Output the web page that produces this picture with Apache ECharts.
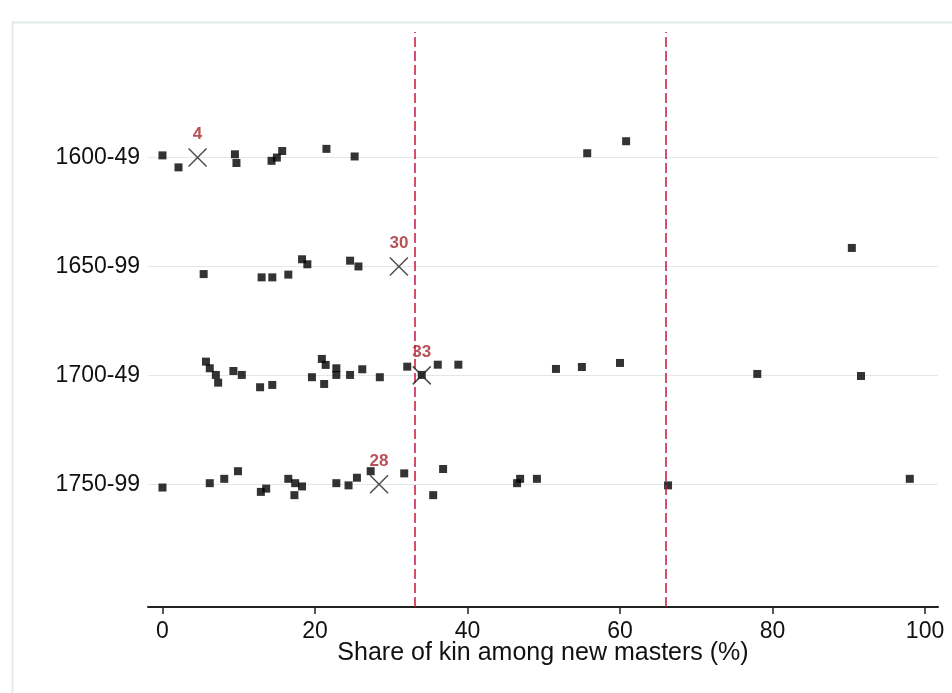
<!DOCTYPE html>
<html>
<head>
<meta charset="utf-8">
<script src="https://cdn.jsdelivr.net/npm/echarts@6/dist/echarts.min.js"></script>
<style>html,body{margin:0;padding:0;background:#fff}#c{width:952px;height:693px}</style>
</head>
<body>
<div id="c"></div>
<script>
// ---- data ----
var categories = ['1600-49', '1650-99', '1700-49', '1750-99'];
var rowValues = [4, 3, 2, 1];
var xTicks = [0, 20, 40, 60, 80, 100];
var xAxisTitle = 'Share of kin among new masters (%)';

var p1600_x = [0.0, 2.1, 9.5, 9.7, 14.3, 15.0, 15.7, 21.5, 25.2, 55.7, 60.8];
var p1600_j = [0.02, -0.09, 0.03, -0.05, -0.03, 0.00, 0.06, 0.08, 0.01, 0.04, 0.15];

var p1650_x = [5.4, 13.0, 14.4, 16.5, 18.3, 19.0, 24.6, 25.7, 90.4];
var p1650_j = [-0.07, -0.10, -0.10, -0.075, 0.066, 0.02, 0.053, 0.0, 0.17];

var p1700_x = [5.7, 6.2, 7.0, 7.3, 9.3, 10.4, 12.8, 14.4, 19.6, 20.9, 21.4, 22.8, 22.8, 21.2, 24.6, 26.2, 28.5, 32.1, 34.0, 36.1, 38.8, 51.6, 55.0, 60.0, 78.0, 91.6];
var p1700_j = [0.126, 0.065, 0.004, -0.067, 0.04, 0.004, -0.109, -0.088, -0.017, 0.151, 0.096, 0.065, 0.004, -0.079, 0.004, 0.056, -0.017, 0.08, 0.004, 0.098, 0.098, 0.059, 0.077, 0.114, 0.013, -0.006];

var p1750_x = [0.0, 6.2, 8.1, 9.9, 12.9, 13.6, 16.5, 17.4, 18.3, 17.3, 22.8, 24.4, 25.5, 27.3, 31.7, 36.8, 35.5, 46.5, 46.9, 49.1, 66.3, 98.0];
var p1750_j = [-0.03, 0.01, 0.05, 0.12, -0.07, -0.04, 0.05, 0.01, -0.02, -0.10, 0.01, -0.01, 0.06, 0.12, 0.10, 0.14, -0.10, 0.01, 0.05, 0.05, -0.01, 0.05];

var meanX = [4.6, 31.0, 34.0, 28.4];
var meanLabels = ['4', '30', '33', '28'];
var refLines = [33.1, 66.0];

// ---- build ----
var groupsX = [p1600_x, p1650_x, p1700_x, p1750_x];
var groupsJ = [p1600_j, p1650_j, p1700_j, p1750_j];
var pts = [];
for (var g = 0; g < groupsX.length; g++) {
  for (var i = 0; i < groupsX[g].length; i++) {
    pts.push([groupsX[g][i], rowValues[g] + groupsJ[g][i]]);
  }
}
var means = [];
for (var k = 0; k < meanX.length; k++) {
  means.push({ value: [meanX[k], rowValues[k]], label: { formatter: meanLabels[k] } });
}

var chart = echarts.init(document.getElementById('c'), null, { renderer: 'canvas' });
var FONT = '"Liberation Sans", Arial, sans-serif';
chart.setOption({
  animation: false,
  backgroundColor: '#ffffff',
  graphic: [{
    type: 'rect', left: 10, top: 20, z: -10,
    shape: { width: 960, height: 700 },
    style: { fill: 'none', stroke: '#e2ebee', lineWidth: 2 }
  }],
  grid: { left: 148, right: 14, top: 32, bottom: 86, containLabel: false },
  xAxis: {
    type: 'value', min: -1.9, max: 101.7,
    name: xAxisTitle, nameLocation: 'middle', nameGap: 34, nameMoveOverlap: false,
    nameTextStyle: { fontFamily: FONT, fontSize: 25, color: '#111' },
    axisLine: { show: true, onZero: false, lineStyle: { color: '#222', width: 2 } },
    axisTick: { show: true, customValues: xTicks, length: 7, lineStyle: { color: '#222', width: 1.5 } },
    axisLabel: { customValues: xTicks, fontFamily: FONT, fontSize: 23, color: '#111', margin: 13 },
    splitLine: { show: false }
  },
  yAxis: {
    type: 'value', min: -0.127, max: 5.153,
    axisLine: { show: false },
    axisTick: { show: false, customValues: rowValues },
    axisLabel: {
      customValues: rowValues, fontFamily: FONT, fontSize: 23, color: '#111', margin: 8,
      formatter: function (v) { var idx = rowValues.indexOf(Math.round(v)); return idx >= 0 ? categories[idx] : ''; }
    },
    splitLine: { show: false }
  },
  series: [
    {
      type: 'scatter', name: 'grid', data: [], silent: true, z: 0, zlevel: 0,
      markLine: {
        silent: true, symbol: 'none', label: { show: false }, animation: false, z: 0,
        lineStyle: { color: '#dfe8ec', width: 1, type: 'solid' },
        data: rowValues.map(function (v) { return { yAxis: v }; })
      }
    },
    {
      type: 'scatter', name: 'obs', z: 5,
      symbol: 'rect', symbolSize: 8,
      itemStyle: { color: '#000' },
      data: pts
    },
    {
      type: 'scatter', name: 'ref', data: [], silent: true, z: 6,
      markLine: {
        silent: true, symbol: 'none', label: { show: false }, animation: false, z: 6,
        lineStyle: { color: '#c8143c', width: 1.5, type: [10, 4] },
        data: refLines.map(function (v) { return { xAxis: v }; })
      }
    },
    {
      type: 'scatter', name: 'mean', z: 7,
      symbol: 'path://M0,0L10,10M10,0L0,10', symbolSize: 18,
      itemStyle: { color: 'none', borderColor: '#222', borderWidth: 1.5 },
      label: {
        show: true, position: 'top', distance: 3,
        fontFamily: FONT, fontSize: 17, fontWeight: 'bold', color: '#a8262e'
      },
      data: means
    }
  ]
});
</script>
</body>
</html>
